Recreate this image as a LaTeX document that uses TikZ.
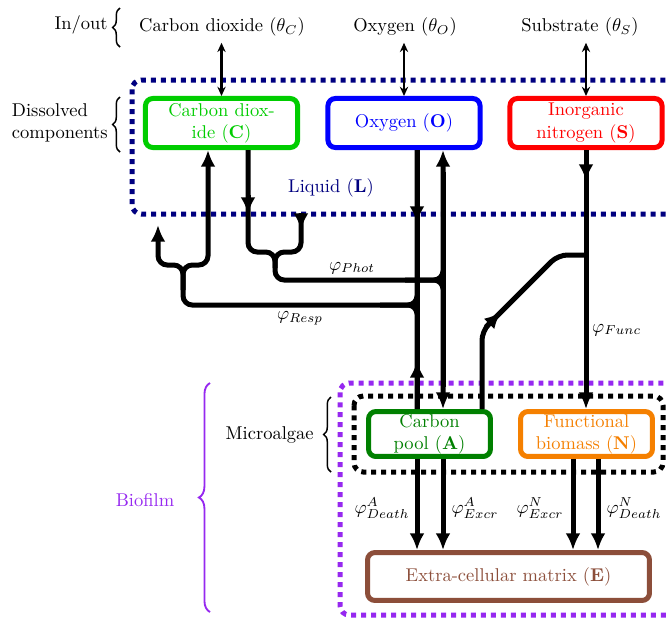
\documentclass[tikz,border=0pt]{standalone}
\usetikzlibrary{arrows.meta,decorations.pathreplacing,calc}
\definecolor{cgreen}{RGB}{0,205,0}
\definecolor{oblue}{RGB}{0,0,255}
\definecolor{sred}{RGB}{255,0,0}
\definecolor{lnavy}{RGB}{0,0,128}
\definecolor{agreen}{RGB}{0,128,0}
\definecolor{norange}{RGB}{245,128,0}
\definecolor{ebrown}{RGB}{140,78,58}
\definecolor{bpurple}{RGB}{150,40,240}
\begin{document}
\begin{tikzpicture}[x=0.5405pt,y=-0.5405pt,
  comp/.style={draw, line width=2.7pt, rounded corners=4pt, fill=white, inner sep=0pt,
    align=center, minimum height=26.5pt, minimum width=82.2pt},
  small/.style={minimum width=#1, minimum height=24.3pt},
  flow/.style={line width=2.7pt, rounded corners=5pt},
  arr/.style={-{Latex[length=9pt,width=8pt]}},
  io/.style={line width=1.1pt, {Stealth[length=5pt,width=4.5pt]}-{Stealth[length=5pt,width=4.5pt]}},
  region/.style={line width=2.7pt, dash pattern=on 2.7pt off 2.7pt, rounded corners=5pt},
  brc/.style={decorate, decoration={brace, amplitude=#1}, line width=0.8pt},
  lab/.style={inner sep=0pt},
  flux/.style={inner sep=1pt},
]
\useasboundingbox (0,0) rectangle (668,620);
\fill[white] (0,0) rectangle (668,620);
\begin{scope}
\clip (0,0) rectangle (668,620);
\draw[region, draw=lnavy] (132,80) rectangle (720,214);
\draw[region, draw=bpurple] (340,383) rectangle (720,615);
\draw[region, draw=black] (354,396) rectangle (663,472);
\end{scope}

% top in/out texts
\node (tC) at (222,27) {Carbon dioxide ($\theta_C$)};
\node (tO) at (405,27) {Oxygen ($\theta_O$)};
\node (tS) at (580,27) {Substrate ($\theta_S$)};

% components
\node[comp, draw=cgreen, text=cgreen] (C) at (221.5,123) {Carbon diox-\\ide (\textbf{C})};
\node[comp, draw=oblue, text=oblue] (O) at (404,123) {Oxygen (\textbf{O})};
\node[comp, draw=sred, text=sred] (S) at (586,123) {Inorganic\\nitrogen (\textbf{S})};
\node[comp, small=65.9pt, draw=agreen, text=agreen] (A) at (429.5,434) {Carbon\\pool (\textbf{A})};
\node[comp, small=71.3pt, draw=norange, text=norange] (N) at (586.5,434) {Functional\\biomass (\textbf{N})};
\node[comp, minimum width=152.4pt, minimum height=25.9pt, draw=ebrown, text=ebrown] (E) at (508.5,576.5) {Extra-cellular matrix (\textbf{E})};

\node[text=lnavy] (L) at (331,188) {Liquid (\textbf{L})};

% in/out arrows
\draw[io] (tC.south -| C.north) -- (C.north);
\draw[io] (tO.south -| O.north) -- (O.north);
\draw[io] (tS.south -| S.north) -- (S.north);

% braces and side labels
\draw[brc=4pt] (120,47) -- (120,8);
\node[lab, anchor=east] (inout) at (108,25) {In/out};
\draw[brc=4pt] (120,152) -- (120,97);
\node[lab, anchor=east, align=left] (dis) at (108,123) {Dissolved\\components};
\draw[brc=4pt] (331,472) -- (331,397);
\node[lab, anchor=east] (micro) at (314,435) {Microalgae};
\draw[brc=6pt, draw=bpurple, line width=1pt] (210,612) -- (210,383);
\node[text=bpurple] (bio) at (145,500) {Biofilm};

% junction coordinates
\coordinate (jR) at (183,265);
\coordinate (jRs) at (183,290);
\coordinate (jP) at (275,252);
\coordinate (jPs) at (275,268);
\coordinate (jRm) at (417,305);
\coordinate (jRh) at (380,305);
\coordinate (jPm) at (443,280);
\coordinate (jPh) at (405,280);
\coordinate (jF) at (586,255);
\coordinate (lL) at (158,225);
\coordinate (lR) at (301,213);

% respiration
\draw[flow, arr] (O.south -| jRm) -- (jRm) -- (jR |- jRm) -- (jR) -- (lL |- jR) -- (lL);
\draw[flow, arr] (jRs) -- (jR) -- (208,265) -- (C.south -| 208,0);
\draw[flow] (A.north -| jRm) -- (jRm) -- (jRh);
\draw[line width=2.7pt] (O.south -| jRm) -- (A.north -| jRm);
\draw[line width=2.7pt, arr] (417,200) -- (417,223);
\draw[line width=2.7pt, arr] (417,382) -- (417,361);

% photosynthesis
\draw[flow, arr] (C.south -| 248,0) -- (248,252) -- (jP) -- (jP |- jPm) -- (jPm) -- (A.north -| jPm);
\draw[flow] (lR) -- (lR |- jP) -- (jP) -- (jPs);
\draw[flow, arr] (jPh) -- (jPm) -- (O.south -| jPm);
\draw[line width=2.7pt] ([yshift=-12pt]O.south -| jPm) -- ([yshift=12pt]A.north -| jPm);
\draw[line width=2.7pt, arr] (248,195) -- (248,214);
\draw[line width=2.7pt, arr] (lR) -- (301,230);

% function
\draw[flow, arr] (S.south) -- (S.south |- N.north);
\draw[line width=2.7pt, arr] (586,160) -- (586,181);
\draw[flow] (A.north -| 482,0) -- (482,331) -- (558,255) -- (jF);
\draw[line width=2.7pt, arr] (486,327) -- (501,312);

% death / excretion
\draw[flow, arr] (A.south -| 417,0) -- (E.north -| 417,0);
\draw[flow, arr] (A.south -| 443,0) -- (E.north -| 443,0);
\draw[flow, arr] (N.south -| 573,0) -- (E.north -| 573,0);
\draw[flow, arr] (N.south -| 598,0) -- (E.north -| 598,0);

% flux labels
\node[flux] (fP) at (352,268) {$\varphi_{Phot}$};
\node[flux] (fR) at (300,318) {$\varphi_{Resp}$};
\node[flux, anchor=west] (fF) at (590,330) {$\varphi_{Func}$};
\node[flux] (fAD) at (382,508) {$\varphi^{A}_{Death}$};
\node[flux] (fAE) at (475,508) {$\varphi^{A}_{Excr}$};
\node[flux] (fNE) at (540,508) {$\varphi^{N}_{Excr}$};
\node[flux] (fND) at (634,508) {$\varphi^{N}_{Death}$};
\end{tikzpicture}
\end{document}
